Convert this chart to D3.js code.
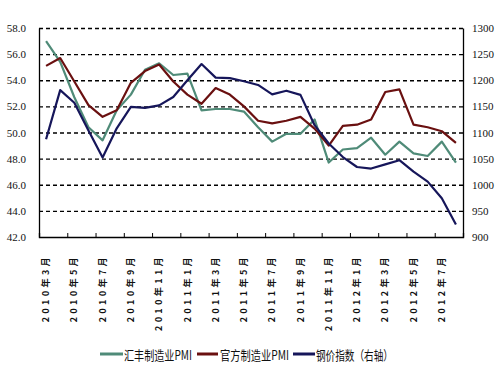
<!DOCTYPE html>
<html>
<head>
<meta charset="utf-8">
<script src="https://cdn.jsdelivr.net/npm/d3@7"></script>
<style>
    body { margin: 0; background: #fff; }
    svg { display: block; }
</style>
</head>
<body>
<svg id="grafico" width="500" height="375"></svg>
<script>

const meses = [
    "2010年3月", "2010年4月", "2010年5月", "2010年6月", "2010年7月", "2010年8月",
    "2010年9月", "2010年10月", "2010年11月", "2010年12月", "2011年1月", "2011年2月",
    "2011年3月", "2011年4月", "2011年5月", "2011年6月", "2011年7月", "2011年8月",
    "2011年9月", "2011年10月", "2011年11月", "2011年12月", "2012年1月", "2012年2月",
    "2012年3月", "2012年4月", "2012年5月", "2012年6月", "2012年7月", "2012年8月"
];

const pmiHsbc = [57.0, 55.4, 52.7, 50.4, 49.4, 51.7, 52.9, 54.8, 55.3, 54.4,
    54.5, 51.7, 51.8, 51.8, 51.6, 50.4, 49.3, 49.9, 49.9, 51.0,
    47.7, 48.7, 48.8, 49.6, 48.3, 49.3, 48.4, 48.2, 49.3, 47.7];

const pmiOficial = [55.1, 55.7, 53.9, 52.1, 51.2, 51.7, 53.8, 54.7, 55.2, 53.9,
    52.9, 52.2, 53.4, 52.9, 52.0, 50.9, 50.7, 50.9, 51.2, 50.3,
    49.0, 50.5, 50.6, 51.0, 53.1, 53.3, 50.6, 50.4, 50.1, 49.2];

const indiceAcero = [1087, 1181, 1157, 1104, 1052, 1108, 1149, 1147, 1152, 1168,
    1200, 1231, 1205, 1204, 1198, 1191, 1173, 1180, 1172, 1114,
    1079, 1053, 1034, 1031, 1039, 1047, 1025, 1006, 974, 924];

const ticksIzq = [42, 44, 46, 48, 50, 52, 54, 56, 58];
const ticksDer = [900, 950, 1000, 1050, 1100, 1150, 1200, 1250, 1300];

const etiquetasX = meses.filter((m, i) => i % 2 === 0);

const series = [
    { nombre: "汇丰制造业PMI", valores: pmiHsbc, eje: "izq", color: "#4f8b78" },
    { nombre: "官方制造业PMI", valores: pmiOficial, eje: "izq", color: "#6a1010" },
    { nombre: "钢价指数（右轴）", valores: indiceAcero, eje: "der", color: "#16165a" }
];

const svg = d3.select("#grafico");

const margin = { top: 28, right: 37, bottom: 138, left: 39 };
const width = 500;
const height = 375;

const x = d3.scaleBand()
    .domain(meses)
    .range([margin.left, width - margin.right]);

const xIndice = d3.scaleLinear()
    .domain([0, meses.length])
    .range([margin.left, width - margin.right]);

const yIzq = d3.scaleLinear()
    .domain([42, 58])
    .range([height - margin.bottom, margin.top]);

const yDer = d3.scaleLinear()
    .domain([900, 1300])
    .range([height - margin.bottom, margin.top]);

// lineas de cuadricula punteadas
const rejilla = svg.append("g")
    .attr("transform", `translate(${margin.left},0)`)
    .call(d3.axisLeft(yIzq)
        .tickValues(ticksIzq.slice(1))
        .tickSize(-(width - margin.left - margin.right))
        .tickFormat(""));

rejilla.select(".domain").remove();
rejilla.selectAll("line")
    .attr("stroke", "#000")
    .attr("stroke-width", 1.3)
    .attr("stroke-dasharray", "4,3");

// eje izquierdo
const ejeIzq = svg.append("g")
    .attr("transform", `translate(${margin.left},0)`)
    .call(d3.axisLeft(yIzq)
        .tickValues(ticksIzq)
        .tickSize(0)
        .tickPadding(13)
        .tickFormat(d3.format(".1f")));

// eje derecho
const ejeDer = svg.append("g")
    .attr("transform", `translate(${width - margin.right},0)`)
    .call(d3.axisRight(yDer)
        .tickValues(ticksDer)
        .tickSize(0)
        .tickPadding(9)
        .tickFormat(d3.format("d")));

[ejeIzq, ejeDer].forEach(eje => {
    eje.select(".domain")
        .attr("stroke", "#000")
        .attr("stroke-width", 1.3);
    eje.selectAll("text")
        .style("font-family", "'Liberation Serif', serif")
        .style("font-size", "11px")
        .attr("fill", "#111");
});

// eje inferior con marcas cada dos meses
const ejeX = svg.append("g")
    .attr("transform", `translate(0,${height - margin.bottom})`)
    .call(d3.axisBottom(xIndice)
        .tickValues(d3.range(0, meses.length + 1, 2))
        .tickSize(-4)
        .tickFormat(""));

ejeX.select(".domain")
    .attr("stroke", "#000")
    .attr("stroke-width", 1.3);
ejeX.selectAll("line")
    .attr("stroke", "#000");

// etiquetas verticales
svg.append("g")
    .selectAll("text")
    .data(etiquetasX)
    .enter()
    .append("text")
    .attr("transform", d =>
        `translate(${x(d) + x.bandwidth() / 2},254) rotate(-90)`)
    .attr("text-anchor", "end")
    .attr("dy", "0.35em")
    .style("font-family", "'Noto Sans CJK SC', sans-serif")
    .style("font-size", "9px")
    .style("font-weight", "bold")
    .style("letter-spacing", "3.4px")
    .attr("fill", "#111")
    .text(d => d);

// lineas de datos
series.forEach(s => {

    const escalaY = s.eje === "izq" ? yIzq : yDer;

    const linea = d3.line()
        .x((d, i) => x(meses[i]) + x.bandwidth() / 2)
        .y(d => escalaY(d));

    svg.append("path")
        .datum(s.valores)
        .attr("d", linea)
        .attr("fill", "none")
        .attr("stroke", s.color)
        .attr("stroke-width", 2.2)
        .attr("stroke-linejoin", "round");

});

// leyenda
const leyenda = [
    { x1: 100, x2: 123, xt: 124, ancho: 68 },
    { x1: 197, x2: 218, xt: 220, ancho: 69 },
    { x1: 293, x2: 315, xt: 316, ancho: 77 }
];

leyenda.forEach((item, i) => {

    svg.append("line")
        .attr("x1", item.x1)
        .attr("x2", item.x2)
        .attr("y1", 354)
        .attr("y2", 354)
        .attr("stroke", series[i].color)
        .attr("stroke-width", 3);

    svg.append("text")
        .attr("x", item.xt)
        .attr("y", 355)
        .attr("dy", "0.35em")
        .attr("textLength", item.ancho)
        .attr("lengthAdjust", "spacingAndGlyphs")
        .style("font-family", "'Noto Sans CJK SC', sans-serif")
        .style("font-size", "13px")
        .attr("fill", "#111")
        .text(series[i].nombre);

});

</script>
</body>
</html>
